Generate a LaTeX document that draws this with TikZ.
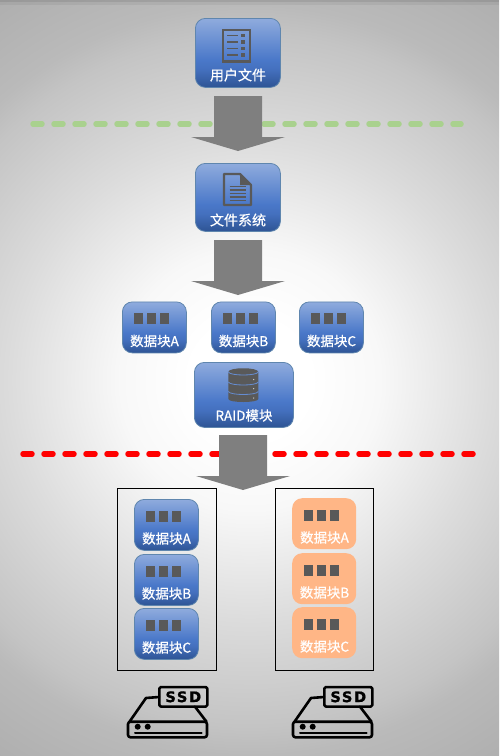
\documentclass[tikz,border=0pt]{standalone}
\usepackage{fontspec}
\newfontfamily\cjkf[FakeBold=0.55]{Noto Sans CJK SC}
\newfontfamily\ssdf[LetterSpace=12,FakeBold=1.2]{DejaVu Sans Bold}
\usetikzlibrary{calc}
\definecolor{blue1}{HTML}{8FABDD}
\definecolor{blue2}{HTML}{4A78C9}
\definecolor{blue2b}{HTML}{4470BE}
\definecolor{blue3}{HTML}{2E5494}
\definecolor{edgeb}{HTML}{5F86AE}
\definecolor{iconc}{HTML}{595959}
\definecolor{orangeb}{HTML}{FFB686}
\definecolor{arrowg}{HTML}{7F7F7F}
\definecolor{greend}{HTML}{A9D18E}
\definecolor{bg0}{HTML}{FFFFFF}
\definecolor{bg1}{HTML}{F8F8F8}
\definecolor{bg2}{HTML}{DCDCDC}
\definecolor{bg3}{HTML}{C4C4C4}
\definecolor{bg4}{HTML}{BABABA}
\definecolor{bg5}{HTML}{AEAEAE}
\pgfdeclareverticalshading{boxblue}{100bp}{
 color(0bp)=(blue3); color(25bp)=(blue3); color(38bp)=(blue2b); color(45bp)=(blue2); color(75bp)=(blue1); color(100bp)=(blue1)}
\pgfdeclareradialshading{bgshade}{\pgfpoint{0bp}{0bp}}{
 color(0bp)=(bg0); color(3bp)=(bg0); color(6.5bp)=(bg1); color(12bp)=(bg2); color(17.3bp)=(bg3); color(18.75bp)=(bg4); color(23bp)=(bg5); color(50bp)=(bg5)}
\tikzset{
 blockb/.style={rectangle,rounded corners=10pt,draw=edgeb,line width=.8pt,shading=boxblue,anchor=north west,inner sep=0pt,minimum width=#1},
 blocko/.style={rectangle,rounded corners=10pt,fill=orangeb,anchor=north west,inner sep=0pt,minimum width=#1},
 lab/.style={text=white,font=\cjkf\fontsize{13.5}{15}\selectfont,inner sep=0pt},
 labbig/.style={lab,font=\cjkf\fontsize{14}{15}\selectfont},
 holder/.style={draw=black,line width=.8pt,rectangle,anchor=north west,inner sep=0pt},
 bigarrow/.style={fill=arrowg,draw=none},
 icn/.style={draw=iconc,line width=2.2pt},
 ssdl/.style={draw=black,line width=2.6pt,line join=round,line cap=round},
}
% block with three squares: name, x, y, style, label
\newcommand{\dblock}[6]{%
 \node[#4=64pt,minimum height=#6pt] (#1) at (#2,#3) {};
 \fill[iconc] ($(#1.north west)+(11.7,11.5)$) rectangle +(9,11);
 \fill[iconc] ($(#1.north west)+(25,11.5)$) rectangle +(9,11);
 \fill[iconc] ($(#1.north west)+(38,11.5)$) rectangle +(9,11);
 \node[lab] (#1t) at ($(#1.north west)+(32.5,39.5)$) {#5};
}
\newcommand{\ssdicon}[2]{%
 \begin{scope}[shift={(#1,0)}]
 \draw[ssdl,rounded corners=2.5pt] (128,721.7) rectangle (207,737.3);
 \draw[ssdl] (129.5,721.7) -- (146,698) -- (159,697);
 \draw[ssdl] (195,706.7) -- (206.5,721.7);
 \draw[line width=2pt,line cap=round] (135,732.7) -- (201.7,732.7);
 \fill (137.7,726.7) circle (3pt);
 \fill (147.7,726.7) circle (3pt);
 \node[ssdl,rounded corners=1.5pt,minimum width=48pt,minimum height=19.5pt,inner sep=0pt,font=\ssdf\fontsize{14.5}{14.5}\selectfont] (#2) at (183.3,696.8) {SSD};
 \end{scope}
}
\begin{document}
\begin{tikzpicture}[x=1pt,y=-1pt]
\useasboundingbox (0,0) rectangle (499,756);
\begin{scope}
 \clip (0,0) rectangle (499,756);
 \shade[shading=bgshade] (250,380) circle (500pt);
 \fill[black,opacity=.08] (0,0) rectangle (499,2);
 \fill[black,opacity=.05] (0,0) rectangle (499,5);
\end{scope}
% dashed lines
\coordinate (gl) at (33,124); \coordinate (gr) at (461,124);
\coordinate (rl) at (23,454); \coordinate (rr) at (473,454);
\draw[greend,line width=5.5pt,line cap=round,dash pattern=on 9pt off 12pt] (gl) -- (gr);
\draw[red,line width=5.5pt,line cap=round,dash pattern=on 9pt off 12pt] (rl) -- (rr);
% arrows
\foreach \ax/\ay in {214/96,214/240,219/435}{
 \begin{scope}[shift={(\ax,\ay)}]
 \fill[bigarrow] (0,0) -- (48,0) -- (48,41) -- (71,41) -- (24,55) -- (-23,41) -- (0,41) -- cycle;
 \end{scope}
}
% main boxes
\node[blockb=85pt,minimum height=69pt] (user) at (195,18) {};
\node[labbig] (usert) at (238,75) {用户文件};
\node[blockb=85pt,minimum height=68pt] (fs) at (195,163) {};
\node[labbig] (fst) at (238,220) {文件系统};
\node[blockb=99pt,minimum height=65pt] (raid) at (194,362) {};
\node[lab] (raidt) at (244,415.5) {RAID模块};
% user file icon
\draw[icn] (222.7,30) rectangle (249.7,61.5);
\foreach \ly in {35.7,42,48.7,55}{
 \draw[iconc,line width=1.3pt] (227.3,\ly) -- (238.3,\ly);
 \fill[iconc] (241.3,\ly-1.7) rectangle (244.7,\ly+1.7);
}
% file system icon
\draw[icn,line join=round] (224,174) -- (240,174) -- (251,185) -- (251,205) -- (224,205) -- cycle;
\fill[iconc] (240,174) -- (251,185) -- (240,185) -- cycle;
\foreach \ly in {186.5,190,193.5,197,200.5}{
 \draw[iconc,line width=1.3pt] (229.5,\ly) -- (245.5,\ly);
}
% raid icon
\fill[iconc] (228.3,372) .. controls (228.3,367) and (258.3,367) .. (258.3,372) -- (258.3,399) .. controls (258.3,403) and (228.3,403) .. (228.3,399) -- cycle;
\foreach \dy/\ey in {372/379.5,382/388.7,391.5/398}{
 \draw[blue2!85!white,line width=.8pt] (228.3,\dy) .. controls (230,\dy+4) and (256.6,\dy+4) .. (258.3,\dy);
 \fill[white!70!iconc] (253.7,\ey) circle (.7pt);
}
% blocks
\dblock{a}{122}{301.5}{blockb}{数据块A}{51}
\dblock{b}{211}{301.5}{blockb}{数据块B}{51}
\dblock{c}{299}{301.5}{blockb}{数据块C}{51}
% holders
\node[holder,minimum width=99pt,minimum height=182pt] (hl) at (117,488) {};
\node[holder,minimum width=98pt,minimum height=182pt] (hr) at (275,488) {};
\dblock{la}{134}{499}{blockb}{数据块A}{51}
\dblock{lb}{134}{554}{blockb}{数据块B}{51}
\dblock{lc}{134}{608}{blockb}{数据块C}{51}
\dblock{ra}{292}{498}{blocko}{数据块A}{51}
\dblock{rb}{292}{553}{blocko}{数据块B}{51}
\dblock{rc}{292}{607}{blocko}{数据块C}{51}
\ssdicon{0}{ssdl1}
\ssdicon{165}{ssdl2}
\end{tikzpicture}
\end{document}
